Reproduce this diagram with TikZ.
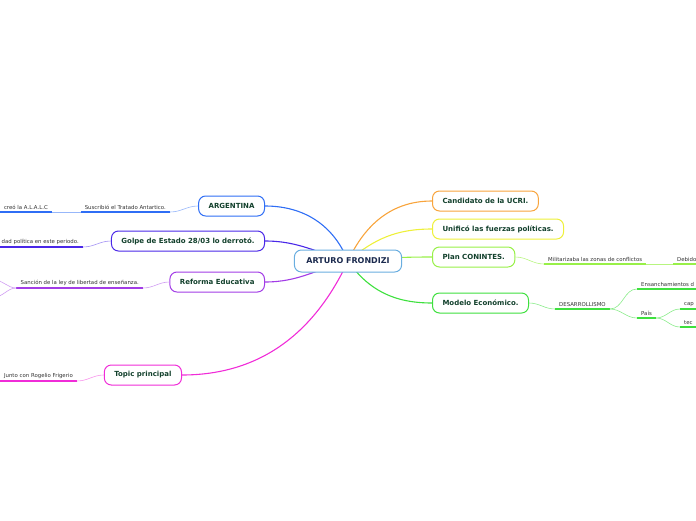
\documentclass[tikz,border=0pt]{standalone}
\usepackage{fontspec}
\setmainfont{DejaVu Sans}
\usetikzlibrary{positioning, backgrounds}

\definecolor{cCentro}{HTML}{6AAEE0}
\definecolor{cTitulo}{HTML}{1B2A4E}
\definecolor{cTexto}{HTML}{12402C}
\definecolor{cAzul}{HTML}{2F6EF5}
\definecolor{cIndigo}{HTML}{4A28E8}
\definecolor{cLila}{HTML}{A23CE6}
\definecolor{cMagenta}{HTML}{F02CD8}
\definecolor{cNaranja}{HTML}{F8A43C}
\definecolor{cAmarillo}{HTML}{EEF03A}
\definecolor{cLima}{HTML}{98F048}
\definecolor{cVerde}{HTML}{3EE03E}

\tikzset{
  tema/.style={shape=rectangle, rounded corners=7pt, draw, line width=1pt, fill=white,
    minimum height=20pt, inner xsep=10pt, font=\bfseries\fontsize{7}{8}\selectfont, text=cTexto},
  centro/.style={tema, minimum height=22pt, inner xsep=12pt, draw=cCentro,
    font=\bfseries\fontsize{8}{9}\selectfont, text=cTitulo},
  sub/.style={inner xsep=4pt, inner ysep=2pt, font=\fontsize{5.4}{6}\selectfont, text=black!80},
  rama/.style={line width=1.1pt},
  hilo/.style={line width=0.6pt},
  raya/.style={line width=1.4pt},
}

\begin{document}
\begin{tikzpicture}[x=1pt, y=1pt]
	\useasboundingbox (0,-520) rectangle (696,0);
	\clip (0,-520) rectangle (696,0);
	% Topics and branches:
	\node[centro] (c) at (348,-261) {ARTURO FRONDIZI};
	\node[tema, draw=cAzul, anchor=east] (arg) at (265,-206) {ARGENTINA};
	\node[tema, draw=cIndigo, anchor=east] (golpe) at (265,-241) {Golpe de Estado 28/03 lo derrotó.};
	\node[tema, draw=cLila, anchor=east] (ref) at (265,-282) {Reforma Educativa};
	\node[tema, draw=cMagenta, anchor=east] (top) at (182,-375) {Topic principal};
	\node[tema, draw=cNaranja, anchor=west] (cand) at (432,-201) {Candidato de la UCRI.};
	\node[tema, draw=cAmarillo, anchor=west] (unif) at (432,-229) {Unificó las fuerzas políticas.};
	\node[tema, draw=cLima, anchor=west] (plan) at (432,-257) {Plan CONINTES.};
	\node[tema, draw=cVerde, anchor=west] (mod) at (432,-303) {Modelo Económico.};
	\begin{scope}[on background layer]
		\draw[rama, cAzul] (c.center) to[out=112, in=0] (arg.east);
		\draw[rama, cIndigo] (c.center) to[out=165, in=0] (golpe.east);
		\draw[rama, cLila] (c.center) to[out=195, in=0] (ref.east);
		\draw[rama, cMagenta] (c.center) to[out=245, in=0] (top.east);
		\draw[rama, cNaranja] (c.center) to[out=65, in=180] (cand.west);
		\draw[rama, cAmarillo] (c.center) to[out=40, in=180] (unif.west);
		\draw[rama, cLima] (c.center) to[out=5, in=180] (plan.west);
		\draw[rama, cVerde] (c.center) to[out=-55, in=180] (mod.west);
	\end{scope}
	% Left subtopics:
	\node[sub, anchor=south east] (s1) at (170,-212) {Suscribió el Tratado Antartico.};
	\node[sub, anchor=south east] (s2) at (52,-212) {creó la A.L.A.L.C};
	\draw[raya, cAzul] (s1.south west) -- (s1.south east);
	\draw[raya, cAzul] (s2.south west) -- (s2.south east);
	\draw[hilo, cAzul!50] (arg.west) to[out=180, in=0] (s1.south east);
	\draw[hilo, cAzul!50] (s1.south west) -- (s2.south east);
	\node[sub, anchor=south east] (g1) at (83,-247) {dad política en este periodo.};
	\draw[raya, cIndigo] (g1.south west) -- (g1.south east);
	\draw[hilo, cIndigo!50] (golpe.west) to[out=180, in=0] (g1.south east);
	\node[sub, anchor=south east] (r1) at (143,-288) {Sanción de la ley de libertad de enseñanza.};
	\coordinate (r2) at (-6,-280);
	\coordinate (r3) at (-6,-297);
	\draw[raya, cLila] (r1.south west) -- (r1.south east);
	\draw[hilo, cLila!50] (ref.west) to[out=180, in=0] (r1.south east);
	\draw[hilo, cLila!50] (r1.south west) to[out=180, in=0] (r2);
	\draw[hilo, cLila!50] (r1.south west) to[out=180, in=0] (r3);
	\node[sub, anchor=south east] (t1) at (77,-381) {Junto con Rogelio Frigerio};
	\draw[raya, cMagenta] (t1.south west) -- (t1.south east);
	\draw[hilo, cMagenta!50] (top.west) to[out=180, in=0] (t1.south east);
	% Right subtopics:
	\node[sub, anchor=south west] (p1) at (544,-264) {Militarizaba las zonas de conflictos};
	\node[sub, anchor=south west] (p2) at (673,-264) {Debido};
	\draw[raya, cLima] (p1.south west) -- (p1.south east);
	\draw[raya, cLima] (p2.south west) -- (p2.south east);
	\draw[hilo, cLima!70] (plan.east) to[out=0, in=180] (p1.south west);
	\draw[hilo, cLima!70] (p1.south east) -- (p2.south west);
	\node[sub, anchor=south west] (m1) at (555,-309) {DESARROLLISMO};
	\node[sub, anchor=south west] (m2) at (637,-289) {Ensanchamientos d};
	\node[sub, anchor=south west] (m3) at (637,-318) {País};
	\node[sub, anchor=south west] (m4) at (680,-309) {cap};
	\node[sub, anchor=south west] (m5) at (680,-327) {tec};
	\foreach \m in {m1,m2,m3,m4,m5}
		\draw[raya, cVerde] (\m.south west) -- (\m.south east);
	\draw[hilo, cVerde!60] (mod.east) to[out=0, in=180] (m1.south west);
	\draw[hilo, cVerde!60] (m1.south east) to[out=0, in=180] (m2.south west);
	\draw[hilo, cVerde!60] (m1.south east) to[out=0, in=180] (m3.south west);
	\draw[hilo, cVerde!60] (m3.south east) to[out=0, in=180] (m4.south west);
	\draw[hilo, cVerde!60] (m3.south east) to[out=0, in=180] (m5.south west);
\end{tikzpicture}
\end{document}
